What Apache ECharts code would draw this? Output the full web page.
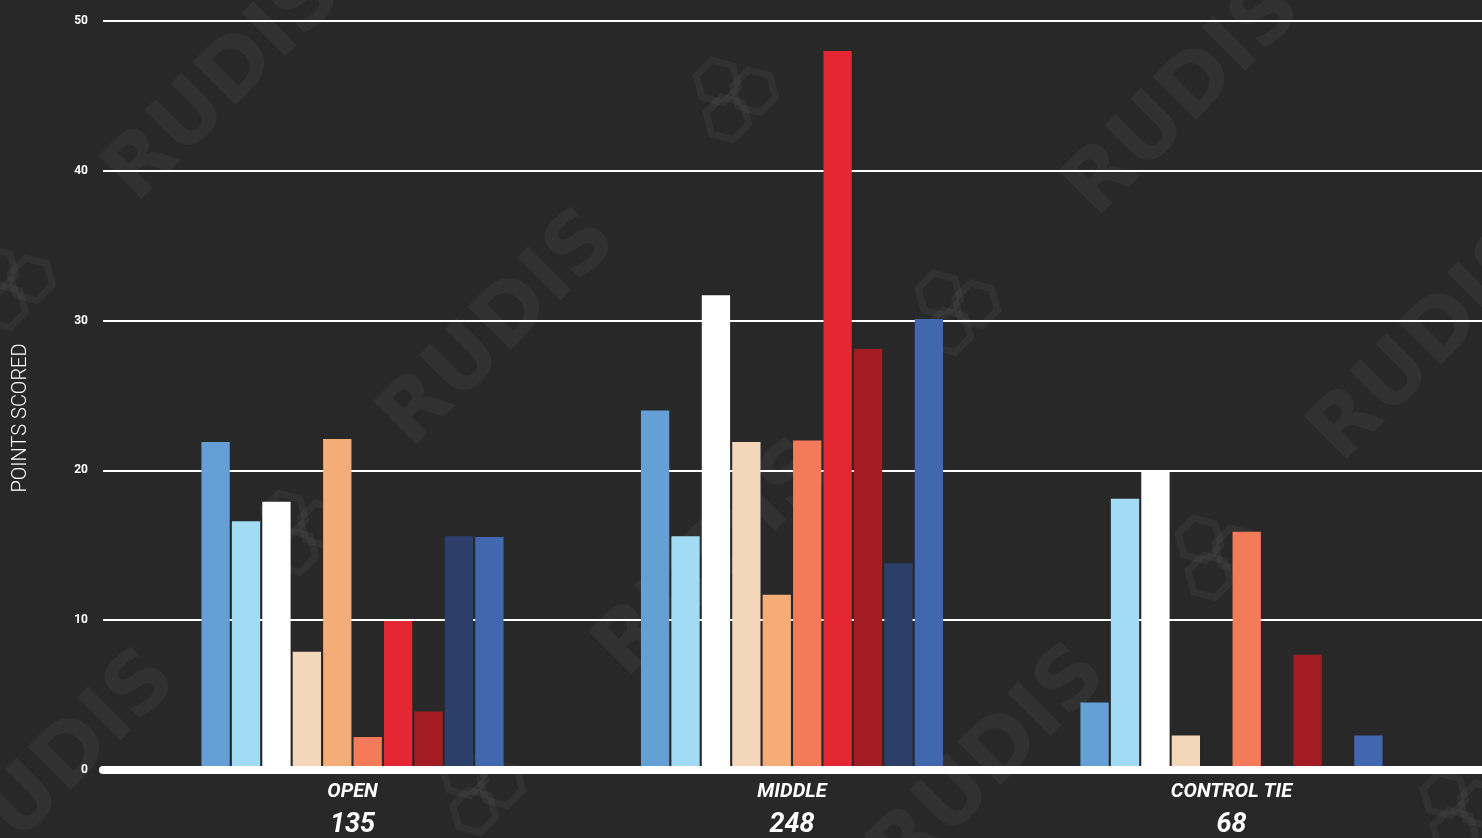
<!DOCTYPE html>
<html>
<head>
<meta charset="utf-8">
<script src="https://cdn.jsdelivr.net/npm/echarts@6/dist/echarts.min.js"></script>
<style>
html,body{margin:0;padding:0;background:#282828;}
#chart{width:1482px;height:838px;}
</style>
</head>
<body>
<div id="chart"></div>
<script>
// ---- data ----
const categories = ['OPEN', 'MIDDLE', 'CONTROL TIE'];
const totals = [135, 248, 68];
const yTicks = [0, 10, 20, 30, 40, 50];
const s1 = [21.9, 24.0, 4.5];
const s2 = [16.6, 15.6, 18.1];
const s3 = [17.9, 31.7, 20.0];
const s4 = [7.9, 21.9, 2.3];
const s5 = [22.1, 11.7, 0];
const s6 = [2.2, 22.0, 15.9];
const s7 = [9.95, 48.0, 0];
const s8 = [3.9, 28.1, 7.7];
const s9 = [15.6, 13.8, 0];
const s10 = [15.55, 30.1, 2.3];
const seriesData = [s1, s2, s3, s4, s5, s6, s7, s8, s9, s10];
const palette = ['#64a0d6', '#a2dcf4', '#ffffff', '#f4d6bb', '#f4ad77', '#f37b5a', '#e52734', '#a31c24', '#2c3f69', '#4167ae'];

const chart = echarts.init(document.getElementById('chart'));

// decorative watermark
const wmFill = 'rgba(255,255,255,0.045)';
const wm = [[500,330],[1185,100],[225,85],[1430,345],[60,770],[715,560],[990,765]];
const graphics = wm.map(p => ({
  type: 'text', x: p[0], y: p[1], rotation: Math.PI/4, z: -10, silent: true,
  style: { text: 'RUDIS', font: 'bold 84px "DejaVu Sans"', fill: wmFill, align: 'center', verticalAlign: 'middle' }
}));
function hexPts(cx, cy, r) {
  const pts = [];
  for (let k = 0; k < 6; k++) {
    const a = Math.PI / 180 * (60 * k + 15);
    pts.push([cx + r * Math.cos(a), cy + r * Math.sin(a)]);
  }
  return pts;
}
const hexCenters = [[733,97],[955,310],[1215,555],[10,285],[480,790],[1460,810],[300,530]];
hexCenters.forEach(c => {
  const r = 22, d = r * Math.sqrt(3);
  [[-d/2, -d*0.29], [d/2, -d*0.29], [0, d*0.58]].forEach(o => {
    const a = Math.PI / 12;
    const ox = o[0] * Math.cos(a) - o[1] * Math.sin(a);
    const oy = o[0] * Math.sin(a) + o[1] * Math.cos(a);
    graphics.push({ type: 'polygon', z: -10, silent: true,
      shape: { points: hexPts(c[0] + ox, c[1] + oy, r) },
      style: { fill: 'none', stroke: wmFill, lineWidth: 7 } });
  });
});
graphics.push({
  type: 'text', x: 21, y: 418, rotation: Math.PI/2,
  style: { text: 'POINTS SCORED', font: '300 20px Roboto', fill: '#ffffff', align: 'center', verticalAlign: 'middle' }
});

const option = {
  backgroundColor: '#282828',
  animation: false,
  graphic: graphics,
  grid: [
    { left: 103, right: 0, top: 21, bottom: 68, outerBoundsMode: 'none', containLabel: false },
    { left: 132.75, right: 30.75, top: 21, bottom: 68, outerBoundsMode: 'none', containLabel: false }
  ],
  xAxis: [
    { type: 'value', gridIndex: 0, min: 0, max: 1, z: 10,
      axisLine: { show: true, onZero: false, lineStyle: { color: '#ffffff', width: 8 } },
      axisTick: { show: false }, axisLabel: { show: false }, splitLine: { show: false } },
    { type: 'category', gridIndex: 1, data: categories,
      axisLine: { show: false }, axisTick: { show: false },
      axisLabel: {
        margin: 10,
        formatter: (v, i) => '{a|' + v + '}\n{b|' + totals[i] + '}',
        rich: {
          a: { fontFamily: 'Roboto', fontStyle: 'italic', fontWeight: 'bold', fontSize: 20, color: '#ffffff', lineHeight: 24 },
          b: { fontFamily: 'Roboto', fontStyle: 'italic', fontWeight: 'bold', fontSize: 27, color: '#ffffff', lineHeight: 42 }
        }
      } }
  ],
  yAxis: [
    { type: 'value', gridIndex: 0, min: 0, max: 50, interval: 10,
      axisLine: { show: false }, axisTick: { show: false },
      axisLabel: { color: '#ffffff', fontFamily: 'Roboto', fontWeight: 'bold', fontSize: 12, margin: 15,
        formatter: v => yTicks.includes(v) ? String(v) : '' },
      splitLine: { show: true, lineStyle: { color: '#ffffff', width: 2 } } },
    { type: 'value', gridIndex: 1, min: 0, max: 50, interval: 10, show: false, splitLine: { show: false } }
  ],
  series: seriesData.map((d, i) => ({
    type: 'bar', name: 'S' + (i + 1), xAxisIndex: 1, yAxisIndex: 1,
    data: d, barWidth: 28.3, barGap: '7.5%',
    itemStyle: { color: palette[i] }
  }))
};
chart.setOption(option);
</script>
</body>
</html>
